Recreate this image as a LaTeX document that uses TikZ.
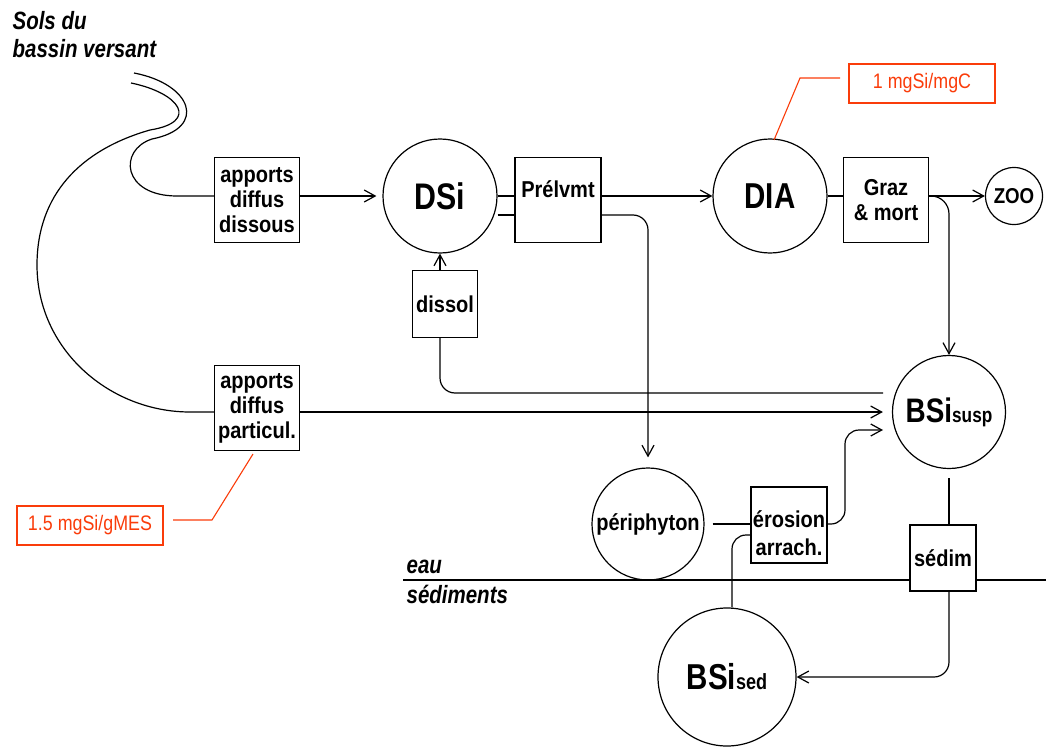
\documentclass[tikz,border=0pt]{standalone}
\usepackage{fontspec}
\setmainfont{Liberation Sans}
% narrow sans faces for flux boxes, pools and notes
\newfontfamily\fluxfont[FakeStretch=0.87]{Liberation Sans}
\newfontfamily\poolfont[FakeStretch=0.82]{Liberation Sans}
\newfontfamily\notefont[FakeStretch=0.85]{Liberation Sans}
\usetikzlibrary{arrows.meta}
\definecolor{noteRed}{RGB}{250,60,10}

\begin{document}
\begin{tikzpicture}[x=1pt,y=-1pt,line width=1.2pt,
  flux/.style={draw,fill=white,inner sep=0pt,align=center,
    font=\fluxfont\bfseries\fontsize{23}{25}\selectfont},
  fluxtext/.style={inner sep=0pt,align=center,
    font=\fluxfont\bfseries\fontsize{23}{25}\selectfont},
  pool/.style={draw,circle,fill=white,inner sep=0pt,
    font=\poolfont\bfseries},
  zone/.style={inner sep=0pt,anchor=base west,
    font=\poolfont\bfseries\itshape\fontsize{25}{28}\selectfont},
  note/.style={draw=noteRed,text=noteRed,line width=1.1pt,inner sep=0pt,
    minimum width=146pt,minimum height=39pt,
    font=\notefont\fontsize{21}{24}\selectfont},
  noteline/.style={draw=noteRed,line width=1.1pt},
  arr/.style={-{Straight Barb[length=11pt,width=12pt]}}]

\useasboundingbox (0,0) rectangle (1046,749);

% ---------- titles of the two compartments ----------
\node[zone] (solsA) at (12,30) {Sols du};
\node[zone] (solsB) at (12,58) {bassin versant};
\node[zone] (eau) at (406,573) {eau};
\node[zone] (sedlbl) at (406,603) {sédiments};

% ---------- pools ----------
\node[pool,minimum size=114pt,font=\poolfont\bfseries\fontsize{37}{40}\selectfont] (dsi) at (440,196) {DSi};
\node[pool,minimum size=114pt,font=\poolfont\bfseries\fontsize{36}{40}\selectfont] (dia) at (770,196) {DIA};
\node[pool,minimum size=57pt,font=\fluxfont\bfseries\fontsize{21.5}{24}\selectfont] (zoo) at (1014,196) {ZOO};
\node[pool,minimum size=113pt,font=\poolfont\bfseries\fontsize{34}{38}\selectfont] (bsi) at (949,412) {BSi{\fontsize{21}{24}\selectfont susp}};
\node[pool,minimum size=112pt,font=\fluxfont\bfseries\fontsize{23}{25}\selectfont] (peri) at (648,524) {périphyton};
\node[pool,minimum size=138pt,font=\poolfont\bfseries\fontsize{36}{40}\selectfont] (bsised) at (727,677) {BSi{\fontsize{22}{24}\selectfont sed}};

% ---------- fluxes ----------
\node[flux,minimum width=85pt,minimum height=85pt] (dis) at (257,200) {apports\\diffus\\dissous};
\node[flux,minimum width=85pt,minimum height=85pt] (par) at (257,408) {apports\\diffus\\particul.};
\node[flux,minimum width=86pt,minimum height=85pt] (prel) at (558,200) {};
\node[fluxtext] (prelt) at (558,189) {Prélvmt};
\node[flux,minimum width=85pt,minimum height=85pt] (graz) at (886,200) {Graz\\\& mort};
\node[flux,minimum width=65pt,minimum height=67pt] (dissol) at (445,304) {dissol};
\node[flux,minimum width=76pt,minimum height=76pt] (ero) at (789,525) {};
\node[fluxtext,font=\fluxfont\bfseries\fontsize{23}{28}\selectfont] (erot) at (789,533) {érosion\\arrach.};
\node[flux,minimum width=66pt,minimum height=66pt] (sed) at (943,558) {sédim};

% ---------- conversion factors ----------
\node[note] (noteDia) at (922,83.5) {1 mgSi/mgC};
\node[note] (notePar) at (90,525.5) {1.5 mgSi/gMES};

% ---------- helper coordinates ----------
\coordinate (riverEnd) at (177,196);
\coordinate (lowY) at (0,215);
\coordinate (inA) at (883,393);
\coordinate (inC) at (883,430);
\coordinate (riseX) at (845,0);
\coordinate (bedX) at (732,535);
\coordinate (shoreW) at (403,580);
\coordinate (shoreE) at (1046,580);
\coordinate (arcEnd) at (190,412);

% ---------- river from the catchment soils ----------
\draw (134,73) .. controls (192,84) and (208,128) .. (152,139)
      .. controls (118,150) and (122,196) .. (riverEnd) -- (dis.west |- dsi);
\draw (131,83) .. controls (180,93) and (200,122) .. (150,130)
      .. controls (80,150) and (37,195) .. (37,265)
      .. controls (37,350) and (110,412) .. (arcEnd) -- (par.west |- bsi);

% ---------- water / sediment interface ----------
\draw (shoreW) -- (sed.west |- shoreW);
\draw (sed.east |- shoreW) -- (shoreE);

% ---------- connectors ----------
\draw[arr,shorten >=6pt] (dis.east |- dsi) -- (dsi.west);
\draw (dsi.east) -- (prel.west |- dsi);
\draw (dsi.east |- lowY) -- (prel.west |- lowY);
\draw[arr] (prel.east |- dsi) -- (dia.west);
\draw[arr,rounded corners=15pt,shorten >=10pt] (prel.east |- lowY) -| (peri.north);
\draw (dia.east) -- (graz.west |- dia);
\draw[arr] (graz.east |- dia) -- (zoo.west);
\draw[arr,rounded corners=18pt] (graz.east |- dia) -| (bsi.north);
\draw[arr] (dissol.north -| dsi) -- (dsi.south);
\draw[rounded corners=15pt] (dissol.south -| dsi) |- (inA);
\draw[arr,shorten >=9pt] (par.east |- bsi) -- (bsi.west);
\draw[shorten <=8pt] (peri.east) -- (ero.west |- peri);
\draw[arr,rounded corners=14pt] (ero.east |- peri) -- (riseX |- peri) -- (riseX |- inC) -- (inC);
\draw[rounded corners=14pt] (ero.west |- bedX) -| (bsised.north -| bedX);
\draw[shorten <=9pt] (bsi.south) -- (sed.north -| bsi);
\draw[arr,rounded corners=15pt] (sed.south -| bsi) |- (bsised.east);

% ---------- leaders of the conversion factors ----------
\draw[noteline] (840,78) -- (800,78) -- (774,140);
\draw[noteline] (173,520) -- (212,520) -- (253,454);
\end{tikzpicture}
\end{document}
